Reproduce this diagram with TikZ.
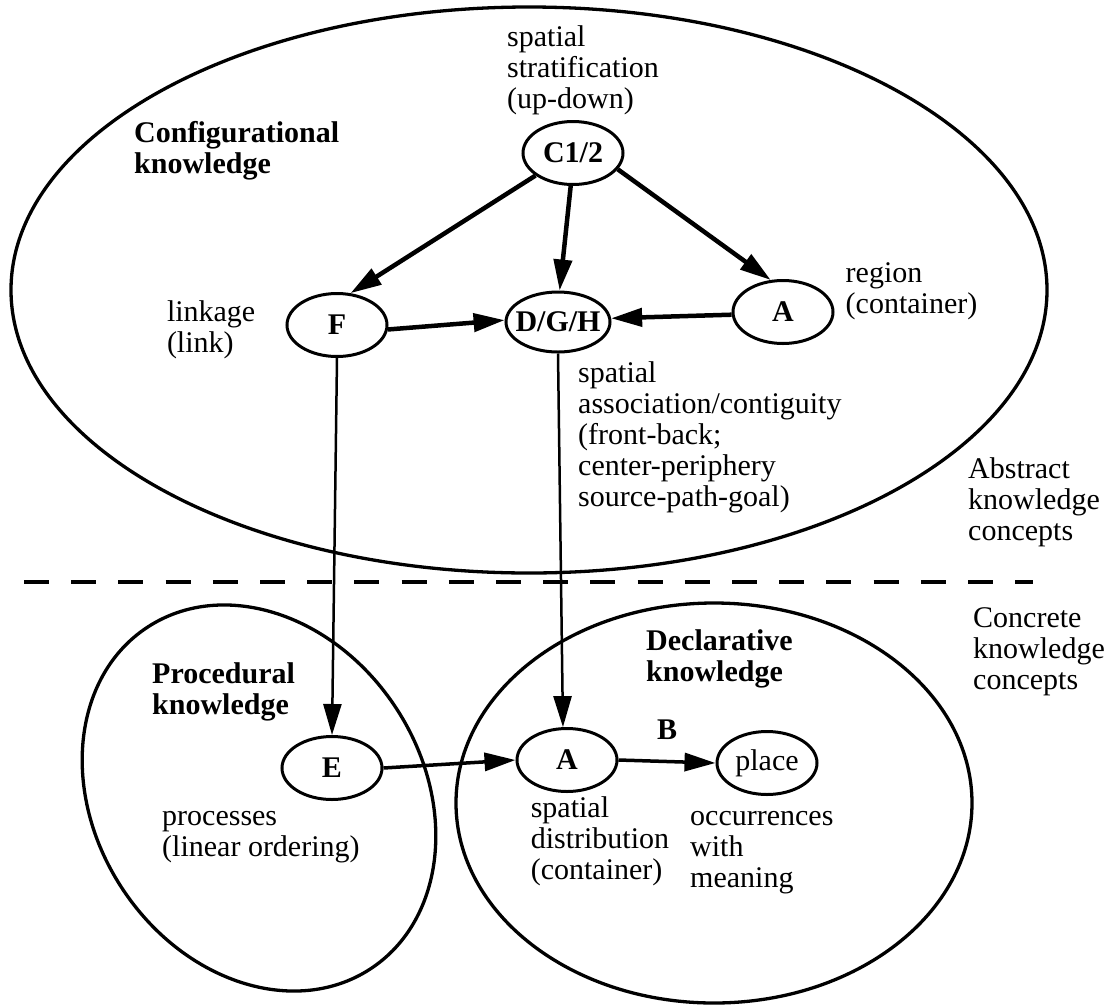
\documentclass[tikz,border=0pt]{standalone}
\usepackage{fontspec}
\setmainfont{Liberation Serif}
\usetikzlibrary{shapes.geometric,arrows.meta,positioning}

\begin{document}
\begin{tikzpicture}[
    x=1pt, y=-1pt,
    every node/.style={font=\fontsize{30}{31}\selectfont, inner sep=0pt},
    term/.style={ellipse, draw, line width=3pt, minimum width=100pt, minimum height=63pt, font=\fontsize{30}{31}\selectfont\bfseries},
    area/.style={draw, line width=3.3pt},
    lbl/.style={align=left, anchor=north west},
    boldlbl/.style={lbl, font=\fontsize{30}{31}\selectfont\bfseries},
    arrow/.style={-{Triangle[length=31pt,width=18pt]}, line width=4.5pt},
    thinarrow/.style={-{Triangle[length=31pt,width=18pt]}, line width=2.5pt},
    midarrow/.style={-{Triangle[length=31pt,width=18pt]}, line width=3.5pt},
]
\useasboundingbox (0,0) rectangle (1120,1005);

% Knowledge areas
\draw[area] (529,290) ellipse [x radius=518pt, y radius=283pt];
\draw[area] (259,798) ellipse [x radius=164pt, y radius=204pt, rotate=33];
\draw[area] (714,803) ellipse [x radius=258pt, y radius=200pt];

% Abstract / concrete separator
\coordinate (sepL) at (24,582);
\coordinate (sepR) at (1033,582);
\draw[line width=4pt, dash pattern=on 25pt off 22.2pt] (sepL) -- (sepR);

% Concept nodes
\node[term] (c12) at (573,153) {C1/2};
\node[term] (f) at (337,325) {F};
\node[term, minimum width=104pt, minimum height=60pt] (dgh) at (558,322) {\makebox[0pt]{D/G/H}};
\node[term] (atop) at (783,312) {A};
\node[term] (e) at (332,768) {E};
\node[term] (alow) at (567,760) {A};
\node[term, font=\fontsize{30}{31}\selectfont] (place) at (767,763) {place};

% Area titles
\node[boldlbl] (conftitle) at (134,121) {Configurational\\knowledge};
\node[boldlbl] (proctitle) at (152,662) {Procedural\\knowledge};
\node[boldlbl] (decltitle) at (646,629) {Declarative\\knowledge};

% Labels
\node[lbl] (stratlbl) at (507,25) {spatial\\stratification\\(up-down)};
\node[lbl, left=30pt of f, yshift=-5pt] (linklbl) {linkage\\(link)};
\node[lbl, right=11pt of atop, yshift=21pt] (regionlbl) {region\\(container)};
\node[lbl] (assoclbl) at (578,361) {spatial\\association/contiguity\\(front-back;\\center-periphery\\source-path-goal)};
\node[lbl] (abstractlbl) at (968,457) {Abstract\\knowledge\\concepts};
\node[lbl] (concretelbl) at (973,607) {Concrete\\knowledge\\concepts};
\node[lbl] (proclbl) at (162,811) {processes\\(linear ordering)};
\node[lbl, below=13pt of alow.south west, anchor=north west] (distlbl) {spatial\\distribution\\(container)};
\node[lbl] (occlbl) at (690,811) {occurrences\\with\\meaning};

% Arrows
\draw[arrow] (c12.211) -- (f.67);
\draw[arrow] (c12.266) -- (dgh.87);
\draw[arrow] (c12.340) -- (atop.111);
\draw[arrow] (f.355) -- (dgh.178);
\draw[arrow] (atop.183) -- (dgh.4);
\draw[thinarrow] (f.south) -- (e.north);
\draw[thinarrow] (dgh.south) -- (alow.97);
\draw[midarrow] (e.east) -- (alow.west);
\draw[midarrow] (alow.east) -- node[above=20pt, font=\fontsize{30}{31}\selectfont\bfseries] (blbl) {B} (place.west);

\end{tikzpicture}
\end{document}
